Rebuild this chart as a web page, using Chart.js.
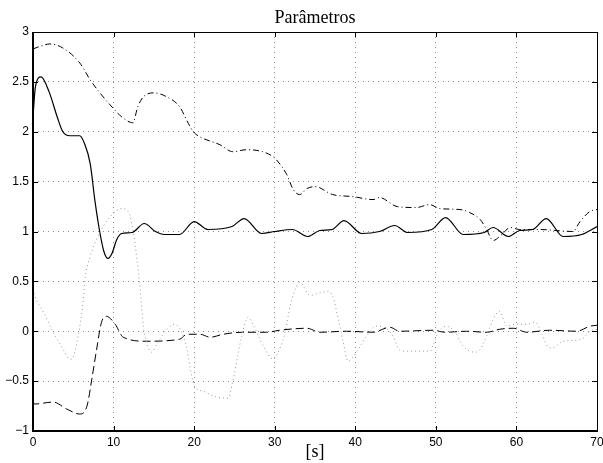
<!DOCTYPE html>
<html>
<head>
<meta charset="utf-8">
<script src="https://cdn.jsdelivr.net/npm/chart.js@4"></script>
<style>
  html, body { margin: 0; padding: 0; background: #fff; }
  #wrap { width: 603px; height: 463px; }
</style>
</head>
<body>
<div id="wrap"><canvas id="paramChart" width="603" height="463"></canvas></div>
<script>
// ----- data -----
const solidX = [0, 0.3, 1.0, 2.0, 3.0, 3.7, 4.6, 5.8, 6.4, 7.1, 7.7, 8.3, 8.8, 9.3, 9.8, 10.4, 11, 12.3, 13.8, 15.2, 16.3, 18.2, 20, 21.7, 24.7, 26.2, 28.4, 30, 32.2, 34.1, 35.6, 37.1, 38.6, 40.8, 43, 44.9, 46.5, 49.5, 51.2, 53.4, 56, 57.1, 59, 60.4, 62, 63.7, 65.8, 68.1, 70];
const solidY = [2.15, 2.45, 2.55, 2.4, 2.15, 2.0, 1.96, 1.96, 1.88, 1.68, 1.3, 0.99, 0.8, 0.73, 0.78, 0.92, 0.98, 0.99, 1.08, 1.0, 0.97, 0.97, 1.1, 1.02, 1.05, 1.13, 0.98, 1.0, 1.02, 0.95, 1.01, 1.02, 1.11, 0.98, 1.0, 1.06, 0.99, 1.02, 1.14, 0.97, 0.99, 1.04, 0.95, 1.01, 1.02, 1.13, 0.95, 0.97, 1.05];

const dashDotX = [0, 1, 2.1, 3.7, 5.8, 7.1, 8.3, 9.9, 11, 12.4, 13, 13.7, 15, 16.6, 18.2, 19.3, 19.9, 20.7, 23.2, 24.8, 26.5, 28.5, 29.8, 30.2, 31.5, 32.3, 33.1, 34, 35, 37.2, 39.7, 42.2, 43, 45.2, 47.6, 49.2, 50.5, 53, 54.2, 55.5, 56.3, 57.1, 58.2, 59.2, 60.4, 62.9, 67, 67.9, 69.1, 70];
const dashDotY = [2.83, 2.86, 2.88, 2.84, 2.69, 2.52, 2.39, 2.24, 2.15, 2.09, 2.25, 2.35, 2.39, 2.35, 2.25, 2.08, 2.0, 1.95, 1.87, 1.8, 1.82, 1.8, 1.75, 1.72, 1.57, 1.42, 1.37, 1.43, 1.45, 1.37, 1.35, 1.32, 1.34, 1.25, 1.24, 1.27, 1.23, 1.22, 1.19, 1.12, 1.02, 0.91, 0.97, 1.04, 1.02, 1.02, 1.0, 1.1, 1.2, 1.22];

const dashedX = [0, 0.2, 2.5, 4.2, 5.8, 6.7, 7.3, 7.9, 8.5, 9.1, 10.2, 11.2, 14.1, 18.2, 19.1, 20.7, 22, 23.6, 26, 29, 30.6, 34, 35.6, 38.9, 42.2, 44.3, 45.5, 49.7, 51.1, 53.8, 56.3, 57.9, 59.6, 61.3, 64.1, 67.5, 69.1, 70];
const dashedY = [-0.7, -0.73, -0.71, -0.78, -0.83, -0.75, -0.48, -0.18, 0.09, 0.15, 0.07, -0.06, -0.1, -0.08, -0.03, -0.03, -0.06, -0.03, -0.01, -0.01, 0.01, 0.03, -0.01, 0, -0.01, 0.04, 0, 0.01, -0.01, 0, -0.01, 0.02, 0.03, -0.01, 0.01, 0, 0.05, 0.06];

const dottedX = [0, 0.4, 1.3, 2.5, 3.6, 4.4, 4.8, 5.6, 6.2, 6.5, 7.1, 8.3, 9.5, 11, 11.8, 12.4, 12.9, 13.3, 13.7, 14.1, 14.7, 15.5, 16.6, 17.6, 18.4, 19.1, 19.7, 20.1, 21.1, 22.8, 24.2, 24.8, 25.4, 25.9, 26.7, 27.3, 28.6, 29.8, 30.6, 31.3, 31.9, 32.7, 33.1, 34.4, 35.4, 36.6, 37.2, 37.9, 38.5, 39.1, 39.7, 40.6, 41.4, 42.6, 43.6, 44.7, 45.5, 46.4, 49.3, 49.7, 50.3, 51.3, 52.4, 53.4, 54.9, 55.5, 56.5, 57.1, 57.9, 58.8, 59.8, 61.3, 62.3, 63.2, 63.7, 64.4, 65.8, 68.1, 69.1, 70];
const dottedY = [0.42, 0.32, 0.19, -0.01, -0.16, -0.27, -0.28, -0.05, 0.29, 0.55, 0.75, 0.99, 1.14, 1.23, 1.2, 1.02, 0.72, 0.42, 0.05, -0.11, -0.21, -0.11, 0.02, 0.07, 0, -0.18, -0.45, -0.56, -0.6, -0.66, -0.67, -0.5, -0.25, -0.05, 0.14, 0.07, -0.15, -0.28, -0.18, -0.01, 0.25, 0.45, 0.49, 0.36, 0.38, 0.4, 0.35, 0.12, -0.11, -0.3, -0.26, -0.15, -0.05, 0.05, 0.04, -0.05, -0.19, -0.2, -0.2, -0.13, -0.01, 0.05, -0.01, -0.15, -0.21, -0.18, -0.01, 0.12, 0.2, 0.05, 0.07, 0.07, 0.09, -0.03, -0.13, -0.17, -0.1, -0.08, 0, 0.02];

const titleText = "Parâmetros";
const xLabelText = "[s]";

function toPoints(xs, ys) {
    return xs.map((x, i) => ({ x, y: ys[i] }));
}

// frame, inward ticks, title and x label (MATLAB look)
const matlabFrame = {
    id: 'matlabFrame',
    afterDraw(chart) {
        const { ctx, chartArea: a, scales } = chart;
        const tick = 5;
        ctx.save();
        ctx.strokeStyle = '#000';
        ctx.lineWidth = 1;
        ctx.beginPath();
        scales.x.ticks.forEach(t => {
            const px = Math.round(scales.x.getPixelForValue(t.value)) + 0.5;
            ctx.moveTo(px, a.bottom); ctx.lineTo(px, a.bottom - tick);
            ctx.moveTo(px, a.top); ctx.lineTo(px, a.top + tick);
        });
        scales.y.ticks.forEach(t => {
            const py = Math.round(scales.y.getPixelForValue(t.value)) + 0.5;
            ctx.moveTo(a.left, py); ctx.lineTo(a.left + tick, py);
            ctx.moveTo(a.right, py); ctx.lineTo(a.right - tick, py);
        });
        ctx.stroke();

        ctx.strokeRect(a.left + 0.5, a.top + 0.5, a.right - a.left, a.bottom - a.top);
        ctx.lineWidth = 2;
        ctx.beginPath();
        ctx.moveTo(a.left, a.top);
        ctx.lineTo(a.left, a.bottom);
        ctx.lineTo(a.right + 1, a.bottom);
        ctx.stroke();

        const cx = (a.left + a.right) / 2;
        ctx.fillStyle = '#000';
        ctx.font = '18px "Liberation Serif", "DejaVu Serif", serif';
        ctx.textAlign = 'center';
        ctx.textBaseline = 'alphabetic';
        ctx.fillText(titleText, cx, 23);
        ctx.fillText(xLabelText, cx, 457);
        ctx.restore();
    }
};

const tickFont = { family: '"Liberation Sans", Arial, sans-serif', size: 12 };

new Chart(document.getElementById('paramChart').getContext('2d'), {
    type: 'line',
    data: {
        datasets: [
            {
                data: toPoints(dottedX, dottedY),
                borderColor: '#9a9a9a',
                borderWidth: 1,
                borderDash: [1, 3]
            },
            {
                data: toPoints(dashedX, dashedY),
                borderColor: '#000',
                borderWidth: 1,
                borderDash: [8, 4]
            },
            {
                data: toPoints(dashDotX, dashDotY),
                borderColor: '#000',
                borderWidth: 1,
                borderDash: [6, 3, 1, 3]
            },
            {
                data: toPoints(solidX, solidY),
                borderColor: '#000',
                borderWidth: 1.2
            }
        ]
    },
    options: {
        responsive: false,
        animation: false,
        events: [],
        elements: {
            point: { radius: 0 },
            line: { cubicInterpolationMode: 'monotone', fill: false }
        },
        layout: { padding: { top: 32, right: 6, left: 0, bottom: 0 } },
        plugins: {
            legend: { display: false },
            title: { display: false },
            tooltip: { enabled: false }
        },
        scales: {
            x: {
                type: 'linear',
                min: 0,
                max: 70,
                ticks: { stepSize: 10, color: '#000', font: tickFont, padding: 4, maxRotation: 0 },
                grid: { color: '#8a8a8a', drawTicks: false, lineWidth: 1 },
                border: { display: false, dash: [1, 4] },
                afterFit(scale) {
                    scale.height = 32;
                    scale.paddingLeft = 0;
                    scale.paddingRight = 0;
                }
            },
            y: {
                min: -1,
                max: 3,
                ticks: {
                    stepSize: 0.5,
                    color: '#000',
                    font: tickFont,
                    padding: 4,
                    callback: v => (v < 0 ? '\u2212' + Math.abs(v) : String(v))
                },
                grid: { color: '#8a8a8a', drawTicks: false, lineWidth: 1 },
                border: { display: false, dash: [1, 4] },
                afterFit(scale) {
                    scale.width = 33;
                    scale.paddingTop = 0;
                    scale.paddingBottom = 0;
                }
            }
        }
    },
    plugins: [matlabFrame]
});
</script>
</body>
</html>
